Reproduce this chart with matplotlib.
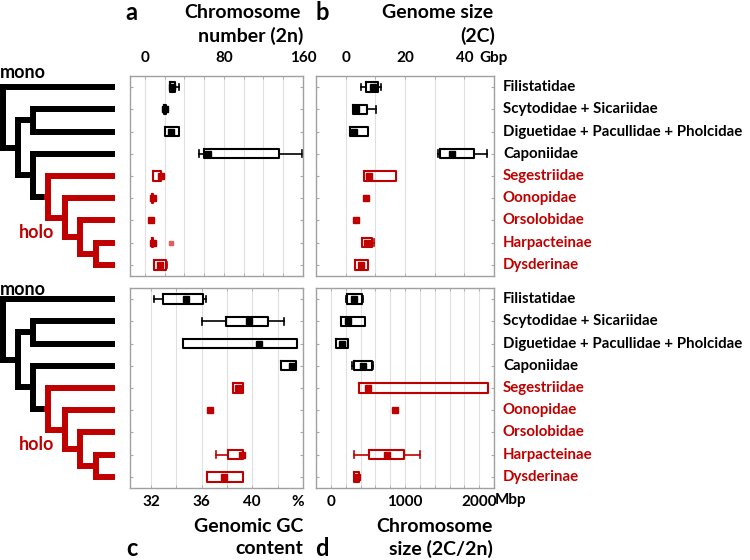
import matplotlib
matplotlib.use("Agg")
import matplotlib.pyplot as plt

plt.rcParams['font.family'] = ['Lato', 'DejaVu Sans']
plt.rcParams['font.weight'] = 'bold'

RED = '#c00000'
W, H = 750, 560

# clades, top to bottom; the last five are holocentric
clades = ["Filistatidae", "Scytodidae + Sicariidae",
          "Diguetidae + Pacullidae + Pholcidae", "Caponiidae",
          "Segestriidae", "Oonopidae", "Orsolobidae", "Harpacteinae", "Dysderinae"]
holo = [False, False, False, False, True, True, True, True, True]

# a: chromosome number (2n)
a_med = [27, 20, 26, 64, 16, 8, 6, 8, 15]
a_q1 = [25, 19, 20, 60, 8, 7.5, None, 7.5, 9.5]
a_q3 = [31, 21.5, 34.5, 136, 16, 8.5, None, 8.5, 21]
a_lo = [25, 19, 20, 55, 8, 7.5, None, 7.5, 9.5]
a_hi = [35, 21.5, 34.5, 159, 16, 8.5, None, 8.5, 22]
a_out = {7: 26}

# b: genome size (2C, Gbp)
b_med = [9.3, 3.4, 2.7, 35.8, 7.8, 6.8, 3.4, 7.2, 5.3]
b_q1 = [6.7, 2.5, 1.6, 31.9, 6.1, None, None, 5.6, 3.1]
b_q3 = [11, 7.2, 7.6, 43.2, 16.8, None, None, 8.9, 7.6]
b_lo = [5.1, 2.5, 1.6, 31.1, 6.1, None, None, 5.6, 3.1]
b_hi = [11.8, 10.2, 7.6, 47.5, 16.8, None, None, 9.6, 7.6]

# c: genomic GC content (%)
c_med = [34.75, 39.76, 40.55, 43.1, 38.88, 36.63, None, 39.16, 37.8]
c_q1 = [32.96, 37.94, 34.53, 42.25, 38.46, None, None, 38.07, 36.45]
c_q3 = [36.1, 41.2, 43.5, 43.48, 39.3, None, None, 39.3, 39.24]
c_lo = [32.24, 36.05, 34.53, 42.25, 38.46, None, None, 37.1, 36.45]
c_hi = [36.37, 42.53, 43.5, 43.48, 39.3, None, None, 39.3, 39.24]

# d: chromosome size (2C/2n, Mbp)
d_med = [315, 225, 144, 437, 496, 865, None, 753, 347]
d_q1 = [221, 131, 68, 315, 383, None, None, 518, 315]
d_q3 = [414, 459, 225, 549, 2117, None, None, 991, 383]
d_lo = [200, 131, 68, 288, 383, None, None, 315, 315]
d_hi = [430, 459, 225, 572, 2117, None, None, 1203, 383]

fig = plt.figure(figsize=(7.5, 5.6), dpi=100)


def rect(l, t, r, b):
    return [l / W, 1 - b / H, (r - l) / W, (b - t) / H]


def ftext(x, y, s, **kw):
    # text placed in figure pixels (from top-left)
    fig.text(x / W, 1 - y / H, s, va='center', **kw)


def panel(pos, med, q1, q3, lo, hi, xlim, grid, ticks, labels, top, out=None):
    ax = fig.add_axes(rect(*pos))
    for i in range(len(clades)):
        col = RED if holo[i] else 'black'
        if q1[i] is not None:
            st = dict(med=med[i], q1=q1[i], q3=q3[i], whislo=lo[i], whishi=hi[i])
            ax.bxp([st], positions=[i], orientation='horizontal', widths=0.42,
                   capwidths=0.3, showfliers=False,
                   boxprops=dict(color=col, lw=1.5),
                   whiskerprops=dict(color=col, lw=1.2),
                   capprops=dict(color=col, lw=1.2),
                   medianprops=dict(visible=False), manage_ticks=False)
        if med[i] is not None:
            ax.plot(med[i], i, 's', color=col, ms=4.4, mec=col)
    if out:
        for i, v in out.items():
            ax.plot(v, i, 's', color='#e06060', ms=2.3)
    ax.set_xlim(*xlim)
    ax.set_ylim(8.5, -0.5)
    ax.set_xticks(grid, minor=True)
    ax.set_xticks(ticks)
    ax.set_xticklabels(labels)
    ax.xaxis.remove_overlapping_locs = False
    ax.grid(which='minor', axis='x', color='#e0e0e0', lw=0.8)
    ax.set_axisbelow(True)
    ax.set_yticks(range(len(clades)))
    ax.set_yticklabels([])
    ax.tick_params(which='minor', direction='in', length=2.5, color='#aaaaaa',
                   top=True, bottom=True)
    ax.tick_params(axis='y', direction='in', length=2.5, color='#aaaaaa',
                   left=True, right=True)
    ax.tick_params(axis='x', which='major', length=0, labelsize=11,
                   labeltop=top, labelbottom=not top, pad=8 if top else 5)
    for s in ax.spines.values():
        s.set_color('#a0a0a0')
        s.set_linewidth(1)
    return ax


ax_a = panel((130, 76, 303, 276), a_med, a_q1, a_q3, a_lo, a_hi, (-15, 160),
             range(0, 161, 20), [0, 80, 160], ['0', '80', '160'], True, a_out)
ax_b = panel((316, 76, 494, 276), b_med, b_q1, b_q3, b_lo, b_hi, (-10, 50),
             range(0, 51, 10), [0, 20, 40, 50], ['0', '20', '40', 'Gbp'], True)
ax_c = panel((130, 288, 303, 488), c_med, c_q1, c_q3, c_lo, c_hi, (30.35, 44),
             range(32, 45, 2), [32, 36, 40, 43.6], ['32', '36', '40', '%'], False)
ax_d = panel((316, 288, 494, 488), d_med, d_q1, d_q3, d_lo, d_hi, (-200, 2200),
             range(0, 2201, 200), [0, 1000, 2000], ['0', '1000', '2000'], False)
ftext(511, 500, 'Mbp', ha='center', fontsize=11)

# clade names
for ax in (ax_b, ax_d):
    for i, name in enumerate(clades):
        ax.text(1.05, i, name, transform=ax.get_yaxis_transform(), va='center',
                ha='left', fontsize=10.8, color=RED if holo[i] else 'black')

# headers
ftext(301, 12, 'Chromosome', ha='right', fontsize=14)
ftext(303, 36, 'number (2n)', ha='right', fontsize=14)
ftext(493, 12, 'Genome size', ha='right', fontsize=14)
ftext(495, 36, '(2C)', ha='right', fontsize=14)
ftext(303, 527, 'Genomic GC', ha='right', fontsize=14)
ftext(303, 549, 'content', ha='right', fontsize=14)
ftext(493, 527, 'Chromosome', ha='right', fontsize=14)
ftext(493, 549, 'size (2C/2n)', ha='right', fontsize=14)
for lab, x, y in [('a', 131, 12), ('b', 322, 12), ('c', 132, 549), ('d', 322, 549)]:
    ftext(x, y, lab, ha='center', fontsize=17)


# cladogram
def tree(top, bot, mono_y, holo_y):
    ax = fig.add_axes(rect(0, top, 115, bot))
    ax.set_xlim(0, 115)
    ax.set_ylim(8.5, -0.5)
    ax.axis('off')
    tip = 113
    G = 7.5
    F = (6 + G) / 2
    E = (5 + F) / 2
    D = (4 + E) / 2
    C = (3 + D) / 2
    B = 1.5
    A = (B + C) / 2
    kw = dict(lw=4.3, solid_capstyle='projecting')
    blk = [
        ([3, 3], [0, A]), ([3, tip], [0, 0]), ([3, 18], [A, A]),
        ([18, 18], [B, C]), ([18, 33], [B, B]), ([18, 33], [C, C]),
        ([33, 33], [1, 2]), ([33, tip], [1, 1]), ([33, tip], [2, 2]),
        ([33, 33], [3, D]), ([33, tip], [3, 3]), ([33, 41], [D, D]),
    ]
    red = [
        ([41, 48], [D, D]), ([48, 48], [4, E]), ([48, tip], [4, 4]), ([48, 65], [E, E]),
        ([65, 65], [5, F]), ([65, tip], [5, 5]), ([65, 80], [F, F]),
        ([80, 80], [6, G]), ([80, tip], [6, 6]), ([80, 96], [G, G]),
        ([96, 96], [7, 8]), ([96, tip], [7, 7]), ([96, tip], [8, 8]),
    ]
    for xs, ys in red:
        ax.plot(xs, ys, color=RED, **kw)
    for xs, ys in blk:
        ax.plot(xs, ys, color='black', **kw)
    ax.text(0, mono_y, 'mono', ha='left', va='center', fontsize=13)
    ax.text(37, holo_y, 'holo', ha='center', va='center', fontsize=13, color=RED)


tree(76, 276, -0.68, 6.55)
tree(288, 488, -0.45, 6.56)

fig.savefig('out.png', dpi=100)
